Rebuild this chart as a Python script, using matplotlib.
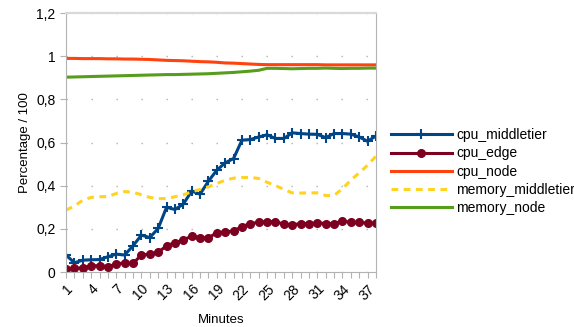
import matplotlib.pyplot as plt
from matplotlib.ticker import FuncFormatter, MultipleLocator

plt.rcParams['font.family'] = ['Liberation Sans', 'DejaVu Sans']

# --- data ---
minutes = list(range(1, 39))

cpu_middletier = [0.079, 0.043, 0.055, 0.057, 0.058, 0.071, 0.083, 0.079, 0.122, 0.171,
                  0.160, 0.202, 0.300, 0.290, 0.315, 0.375, 0.361, 0.421, 0.472, 0.506,
                  0.526, 0.611, 0.614, 0.626, 0.636, 0.619, 0.619, 0.645, 0.642, 0.639,
                  0.638, 0.623, 0.642, 0.642, 0.639, 0.626, 0.606, 0.631]

cpu_edge = [0.012, 0.017, 0.020, 0.029, 0.029, 0.025, 0.037, 0.043, 0.040, 0.079,
            0.083, 0.091, 0.122, 0.136, 0.148, 0.167, 0.159, 0.159, 0.182, 0.185,
            0.191, 0.210, 0.225, 0.230, 0.234, 0.233, 0.222, 0.218, 0.225, 0.225,
            0.228, 0.225, 0.225, 0.236, 0.231, 0.230, 0.227, 0.227]

cpu_node = [0.990, 0.990, 0.989, 0.989, 0.989, 0.988, 0.988, 0.987, 0.987, 0.986,
            0.985, 0.983, 0.981, 0.980, 0.979, 0.977, 0.975, 0.974, 0.972, 0.969,
            0.968, 0.966, 0.964, 0.962, 0.961, 0.961, 0.961, 0.961, 0.961, 0.961,
            0.961, 0.960, 0.960, 0.960, 0.960, 0.960, 0.960, 0.960]

memory_middletier = [0.287, 0.306, 0.333, 0.346, 0.349, 0.350, 0.364, 0.373, 0.370, 0.358,
                     0.346, 0.340, 0.341, 0.349, 0.358, 0.372, 0.383, 0.395, 0.410, 0.426,
                     0.435, 0.438, 0.438, 0.434, 0.416, 0.401, 0.383, 0.367, 0.366, 0.367,
                     0.367, 0.355, 0.355, 0.386, 0.426, 0.460, 0.495, 0.537]

memory_node = [0.903, 0.904, 0.905, 0.906, 0.907, 0.908, 0.909, 0.910, 0.911, 0.912,
               0.913, 0.914, 0.915, 0.915, 0.916, 0.917, 0.918, 0.919, 0.921, 0.923,
               0.925, 0.928, 0.931, 0.935, 0.944, 0.944, 0.943, 0.942, 0.943, 0.944,
               0.944, 0.945, 0.944, 0.943, 0.944, 0.944, 0.945, 0.945]

x_ticks = list(range(1, 39, 3))

# --- figure ---
fig = plt.figure(figsize=(5.74, 3.27), dpi=100)
ax = fig.add_axes([0.115, 0.168, 0.540, 0.792])

ax.plot(minutes, cpu_middletier, color='#004586', lw=2.2, marker='+', ms=7, mew=1.5,
        label='cpu_middletier')
ax.plot(minutes, cpu_edge, color='#7e0021', lw=2.2, marker='o', ms=5.5,
        label='cpu_edge')
ax.plot(minutes, cpu_node, color='#ff420e', lw=2.2, label='cpu_node')
ax.plot(minutes, memory_middletier, color='#ffd320', lw=2.2, dashes=(2.2, 1.8),
        label='memory_middletier')
ax.plot(minutes, memory_node, color='#579d1c', lw=2.2, label='memory_node')

ax.set_xlim(1, 38)
ax.set_ylim(0, 1.2)
ax.set_xticks(x_ticks)
ax.xaxis.set_minor_locator(MultipleLocator(1))
ax.yaxis.set_major_locator(MultipleLocator(0.2))
ax.yaxis.set_major_formatter(FuncFormatter(lambda v, p: f'{v:.1f}'.rstrip('0').rstrip('.').replace('.', ',')))

for lbl in ax.get_xticklabels():
    lbl.set_rotation(45)
    lbl.set_ha('right')
    lbl.set_rotation_mode('anchor')

ax.tick_params(axis='both', which='both', colors='#b3b3b3', labelcolor='black',
               labelsize=10, length=4, width=0.8)
ax.tick_params(axis='x', pad=3)

ax.yaxis.grid(True, color='#b3b3b3', linestyle=(0, (1, 17)), lw=1)
ax.set_axisbelow(True)

for s in ['left', 'bottom', 'right']:
    ax.spines[s].set_color('#b3b3b3')
ax.spines['top'].set_color('#d9d9d9')
ax.spines['top'].set_linewidth(1.6)

ax.set_xlabel('Minutes', fontsize=9.5, labelpad=8)
ax.set_ylabel('Percentage / 100', fontsize=9.5, labelpad=4)

ax.legend(loc='center left', bbox_to_anchor=(1.030, 0.388), frameon=False,
          fontsize=10, handlelength=4.4, handletextpad=0.3, labelspacing=0.3,
          borderaxespad=0)

fig.savefig('out.png', dpi=100)
